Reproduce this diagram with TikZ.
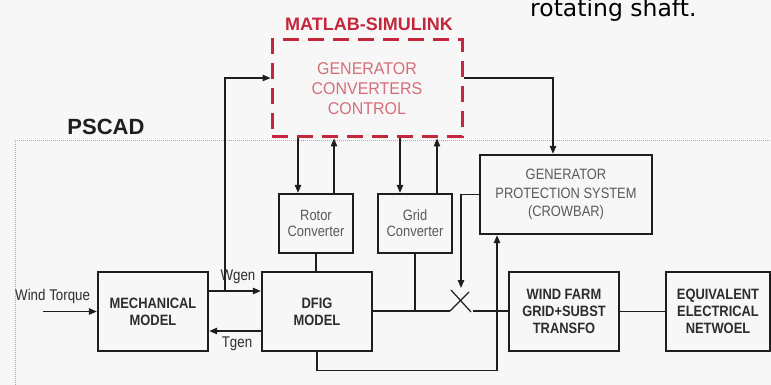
\documentclass[tikz,border=0pt]{standalone}
\usepackage{fontspec}
\setmainfont{Liberation Sans}
\newfontfamily\nsans[FakeStretch=0.86]{Liberation Sans}
\newfontfamily\csans[FakeStretch=0.94]{Liberation Sans}
\newfontfamily\dejavu{DejaVu Sans}
\usetikzlibrary{arrows.meta,calc}
\definecolor{bg}{RGB}{247,247,247}
\definecolor{mred}{RGB}{196,38,60}
\definecolor{lred}{RGB}{212,110,122}
\definecolor{ink}{RGB}{30,30,30}
\definecolor{txt}{RGB}{45,45,45}
\definecolor{txtl}{RGB}{90,90,90}
\begin{document}
\begin{tikzpicture}[x=1pt,y=-1pt,
  blk/.style={draw=ink,line width=2.4pt,rectangle,inner sep=0pt,align=center,text=txt},
  boldt/.style={font=\nsans\fontsize{15}{17}\selectfont\bfseries},
  normt/.style={font=\nsans\fontsize{15}{18.5}\selectfont,text=txtl},
  convt/.style={font=\nsans\fontsize{15}{16}\selectfont,text=txtl},
  conn/.style={draw=ink,line width=1.2pt},
  arr/.style={conn,-{Triangle[length=8pt,width=6.5pt]}},
  lbl/.style={inner sep=0pt,text=txt,font=\nsans\fontsize{15.5}{17}\selectfont}]
\fill[bg] (0,0) rectangle (771,385);
\useasboundingbox (0,0) rectangle (771,385);
% texts outside
\node[anchor=base west,inner sep=0pt,font=\dejavu\fontsize{23.5}{28}\selectfont,text=black] (rs) at (530,17) {rotating shaft.};
\node[inner sep=0pt,font=\fontsize{18}{22}\selectfont\bfseries,text=mred] (ml) at (369,24) {MATLAB-SIMULINK};
\node[inner sep=0pt,font=\fontsize{22}{26}\selectfont\bfseries,text=ink] (ps) at (106,127) {PSCAD};
% PSCAD border
\draw[gray!65,line width=1pt,dash pattern=on 1pt off 1pt] (15,385) -- (15,141) -- (771,141);
% nodes
\node[draw=mred,line width=3pt,dash pattern=on 16pt off 9pt,rectangle,minimum width=190pt,minimum height=97pt,align=center,text=lred,font=\csans\fontsize{17}{20}\selectfont] (ctrl) at (367,88.5) {GENERATOR\\CONVERTERS\\CONTROL};
\node[blk,normt,minimum width=172pt,minimum height=79pt] (gps) at (566,194.5) {GENERATOR\\PROTECTION SYSTEM\\(CROWBAR)};
\node[blk,convt,minimum width=74pt,minimum height=59pt] (rotor) at (316,223.5) {Rotor\\Converter};
\node[blk,convt,minimum width=74pt,minimum height=59pt] (grid) at (415,223.5) {Grid\\Converter};
\node[blk,boldt,minimum width=110pt,minimum height=79pt] (mech) at (153,311.5) {MECHANICAL\\MODEL};
\node[blk,boldt,minimum width=110pt,minimum height=79pt] (dfig) at (317,311.5) {DFIG\\MODEL};
\node[blk,boldt,minimum width=110pt,minimum height=79pt] (wf) at (564,311.5) {WIND FARM\\GRID+SUBST\\TRANSFO};
\node[blk,boldt,minimum width=104pt,minimum height=79pt] (eq) at (718,311.5) {EQUIVALENT\\ELECTRICAL\\NETWOEL};
% labels
\node[lbl,anchor=west] (wtl) at (15,296) {Wind Torque};
\node[lbl] (wg) at (238,277) {Wgen};
\node[lbl] (tg) at (237,344) {Tgen};
% coordinates
\coordinate (wt) at (43,311.5);
\coordinate (br) at (225,291);
\coordinate (r1) at ([xshift=-18pt]rotor.north);
\coordinate (r2) at ([xshift=18pt]rotor.north);
\coordinate (g1) at ([xshift=-15pt]grid.north);
\coordinate (g2) at ([xshift=22pt]grid.north);
\coordinate (swL) at (450,311);
\coordinate (swR) at (473,311);
\coordinate (swT) at (461,288);
% connectors
\draw[arr] (wt) -- (mech.west);
\draw[arr] ([yshift=20.5pt]mech.east) -- ([yshift=20.5pt]dfig.west);
\draw[arr] ([yshift=-19.5pt]dfig.west) -- ([yshift=-19.5pt]mech.east);
\draw[arr] (br) |- ([yshift=10.5pt]ctrl.west);
\draw[arr] ([yshift=10.5pt]ctrl.east) -| ([xshift=-13pt]gps.north);
\draw[arr] (r1 |- ctrl.south) -- (r1);
\draw[arr] (r2) -- (r2 |- ctrl.south);
\draw[arr] (g1 |- ctrl.south) -- (g1);
\draw[arr] (g2) -- (g2 |- ctrl.south);
\draw[conn] (rotor.south) -- (rotor.south |- dfig.north);
\draw[conn] (dfig.east |- swL) -- (swL);
\draw[conn] (grid.south) -- (grid.south |- swL);
\draw[conn] (swL) -- (469,292);
\draw[conn] (451,290) -- (471,312);
\draw[arr] (gps.west) -| (swT);
\draw[conn] (swR) -- (wf.west |- swR);
\draw[arr] (dfig.south) -- ++(0,18) -| ([xshift=-69pt]gps.south);
\draw[conn] (wf.east) -- (eq.west);
\end{tikzpicture}
\end{document}
